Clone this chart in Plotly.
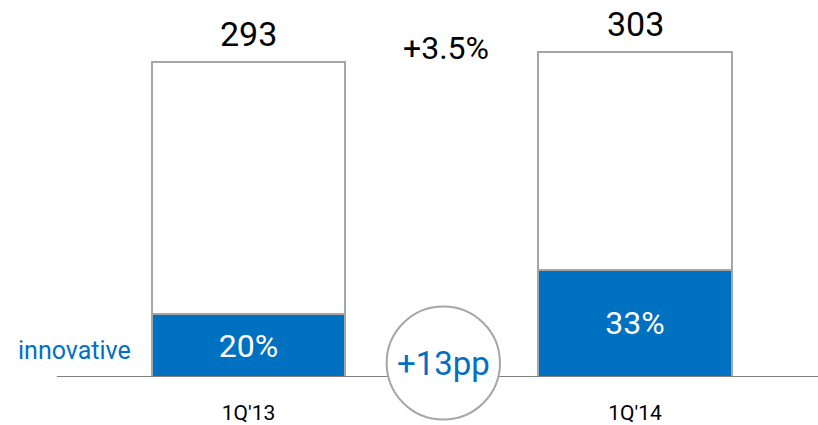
import plotly.graph_objects as go

# Quarterly totals and the innovative share of each
quarters = ["1Q'13", "1Q'14"]
totals = [293, 303]
innovative_pct = [20, 33]
growth_label = "+3.5%"
share_change_label = "+13pp"
segment_label = "innovative"

BLUE = "#0070C0"
GRAY = "#A6A6A6"
FONT = "Roboto, Liberation Sans, sans-serif"

xs = list(range(len(quarters)))
innov_vals = [t * p / 100 for t, p in zip(totals, innovative_pct)]
rest_vals = [t - v for t, v in zip(totals, innov_vals)]

fig = go.Figure()
fig.add_trace(go.Bar(
    x=xs, y=innov_vals, width=0.5,
    marker=dict(color=BLUE, line=dict(color=GRAY, width=2)),
    text=[f"{p}%" for p in innovative_pct], textposition="inside",
    insidetextanchor="middle",
    textfont=dict(family=FONT, size=32, color="white"),
    hoverinfo="skip",
))
fig.add_trace(go.Bar(
    x=xs, y=rest_vals, width=0.5,
    marker=dict(color="white", line=dict(color=GRAY, width=2)),
    hoverinfo="skip",
))

# total labels above each bar
for x, t in zip(xs, totals):
    fig.add_annotation(x=x, y=t, text=str(t), showarrow=False,
                       xanchor="center", yanchor="bottom", yshift=6,
                       font=dict(family=FONT, size=34, color="black"))

# growth label between the bars
fig.add_annotation(x=0.545, y=0.872, xref="paper", yref="paper",
                   xanchor="center", yanchor="middle",
                   text=growth_label, showarrow=False,
                   font=dict(family=FONT, size=32, color="black"))

# segment label at the left
fig.add_annotation(x=0.162, y=0.07, xref="paper", yref="paper",
                   xanchor="right", yanchor="middle",
                   text=segment_label, showarrow=False,
                   font=dict(family=FONT, size=25, color=BLUE))

# baseline
fig.add_shape(type="line", xref="x", yref="y", x0=-0.496, x1=1.48, y0=0, y1=0,
              line=dict(color="#808080", width=2), layer="above")

# circle with the share change
fig.add_shape(type="circle", xref="paper", yref="paper",
              x0=0.4727, x1=0.6112, y0=-0.113, y1=0.187,
              fillcolor="white", line=dict(color=GRAY, width=2), layer="above")
fig.add_annotation(x=0.5419, y=0.037, xref="paper", yref="paper",
                   xanchor="center", yanchor="middle",
                   text=share_change_label, showarrow=False,
                   font=dict(family=FONT, size=33, color=BLUE))

fig.update_layout(
    barmode="stack",
    width=818, height=425,
    margin=dict(l=0, r=0, t=0, b=46),
    paper_bgcolor="white", plot_bgcolor="white",
    showlegend=False,
    xaxis=dict(range=[-0.643, 1.4734], tickvals=xs, ticktext=quarters,
               showgrid=False, zeroline=False, showline=False, ticks="",
               ticklabelstandoff=21,
               tickfont=dict(family=FONT, size=21, color="black")),
    yaxis=dict(range=[0, 351], visible=False, showgrid=False),
)

fig.write_html("out.html")
